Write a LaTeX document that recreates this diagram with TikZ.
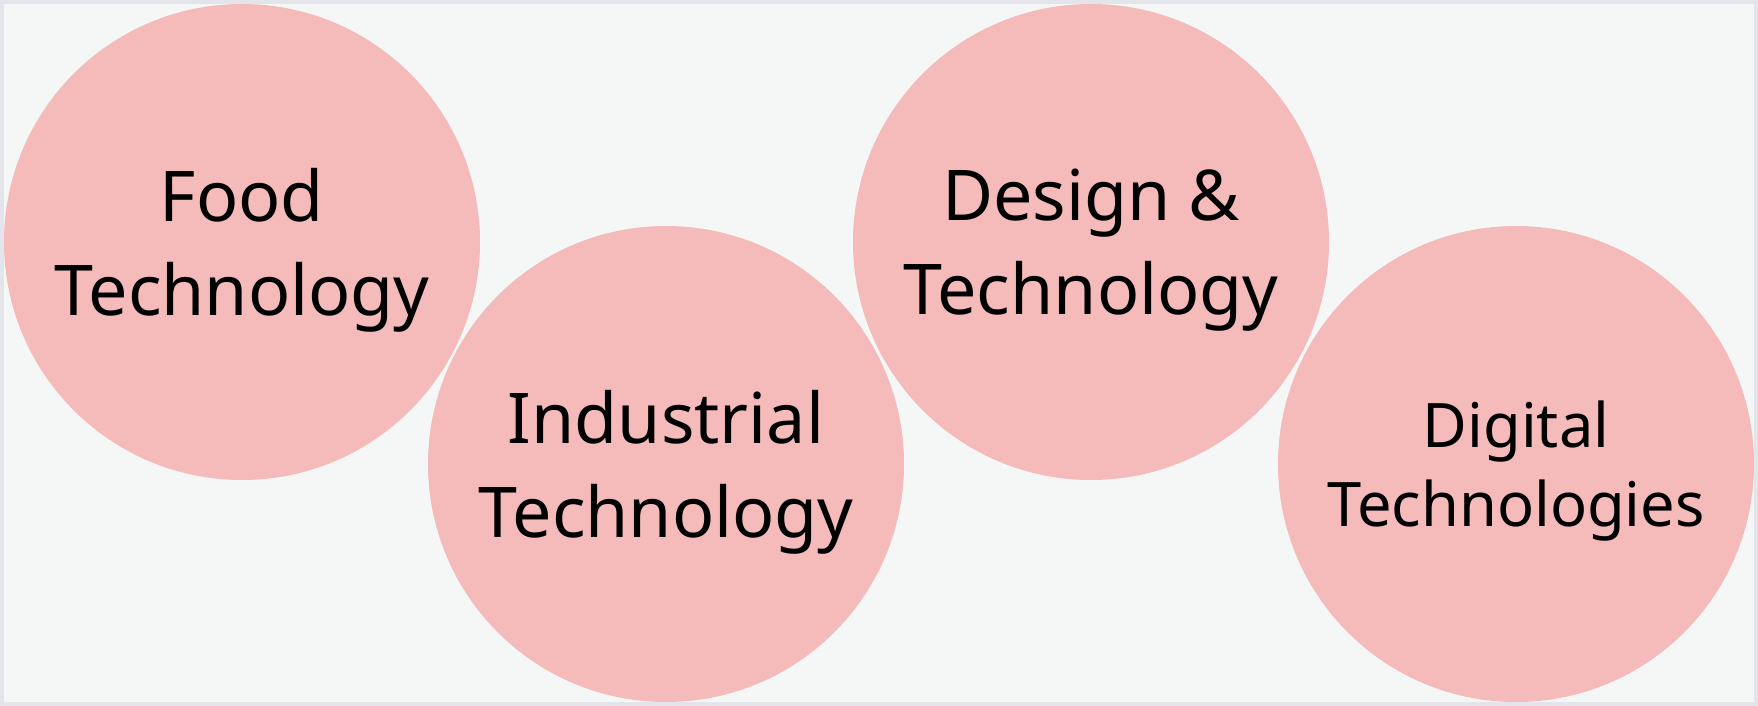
\documentclass[tikz,border=0pt]{standalone}
\usepackage{fontspec}
\setmainfont{Noto Sans}
\usetikzlibrary{positioning}
\definecolor{panelbg}{HTML}{F5F7F7}
\definecolor{panelrule}{HTML}{E3E5EA}
\definecolor{discfill}{HTML}{F5BABA}

\begin{document}
\begin{tikzpicture}[
    x=0.5pt, y=-0.5pt,
    panel/.style={draw=panelrule, fill=panelbg, line width=2pt},
    disc/.style={circle, fill=discfill, minimum size=238pt, inner sep=0pt, text depth=0pt, align=center, font=\fontsize{35}{47}\selectfont},
    smalldisc/.style={disc, font=\fontsize{30.7}{39.5}\selectfont},
]

% === PANEL ===
\useasboundingbox (0,0) rectangle (1758,706);
\draw[panel] (2,2) rectangle (1756,704);

% === DISCS ===
\node[disc] (food) at (242,242) {Food\\Technology};
\node[disc] (industrial) at (666,464) {Industrial\\Technology};
\node[disc] (design) at (1091,242) {Design \&\\Technology};
\node[smalldisc] (digital) at (1516,464) {Digital\\Technologies};

\end{tikzpicture}
\end{document}
